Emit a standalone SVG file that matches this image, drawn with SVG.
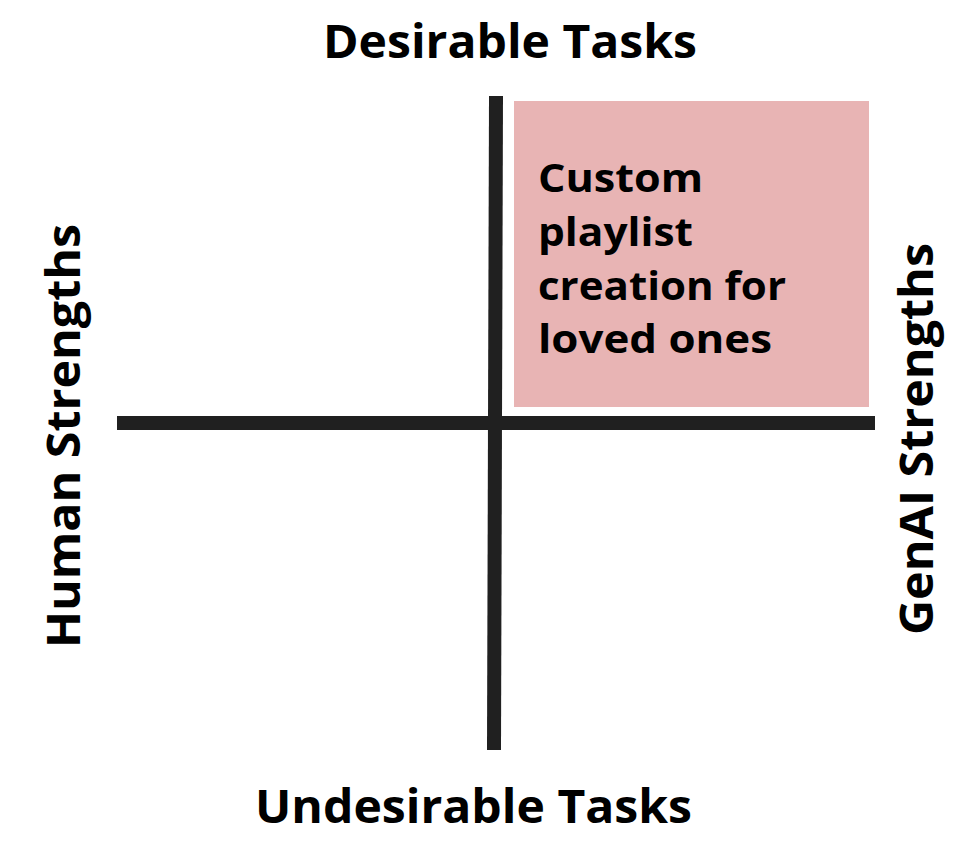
<svg xmlns="http://www.w3.org/2000/svg" width="980" height="854" viewBox="0 0 980 854">
<style>
.t{font-family:"Open Sans","Liberation Sans",sans-serif;font-weight:700;fill:#000}
.ax{stroke:#202020;stroke-width:14;stroke-linecap:butt}
</style>
<rect width="980" height="854" fill="#fff"/>
<g id="quadrant">
<rect x="514" y="101" width="355" height="306" fill="#e8b4b4"/>
</g>
<g id="connectors">
<line class="ax" x1="496" y1="96" x2="494" y2="750"/>
<line class="ax" x1="117" y1="423" x2="875" y2="423"/>
</g>
<g id="box-label">
<text class="t" font-size="40" x="538" y="192" textLength="165" lengthAdjust="spacingAndGlyphs">Custom</text>
<text class="t" font-size="40" x="538" y="246" textLength="155" lengthAdjust="spacingAndGlyphs">playlist</text>
<text class="t" font-size="40" x="538" y="300" textLength="248" lengthAdjust="spacingAndGlyphs">creation for</text>
<text class="t" font-size="40" x="538" y="353" textLength="234" lengthAdjust="spacingAndGlyphs">loved ones</text>
</g>
<g id="top-label">
<text class="t" font-size="47" x="323" y="58" textLength="374" lengthAdjust="spacingAndGlyphs">Desirable Tasks</text>
</g>
<g id="bottom-label">
<text class="t" font-size="47" x="255" y="823" textLength="437" lengthAdjust="spacingAndGlyphs">Undesirable Tasks</text>
</g>
<g id="left-label">
<text class="t" font-size="47" transform="translate(80,648) rotate(-90)" textLength="424" lengthAdjust="spacingAndGlyphs">Human Strengths</text>
</g>
<g id="right-label">
<text class="t" font-size="47" transform="translate(933,635) rotate(-90)" textLength="392" lengthAdjust="spacingAndGlyphs">GenAI Strengths</text>
</g>
</svg>
